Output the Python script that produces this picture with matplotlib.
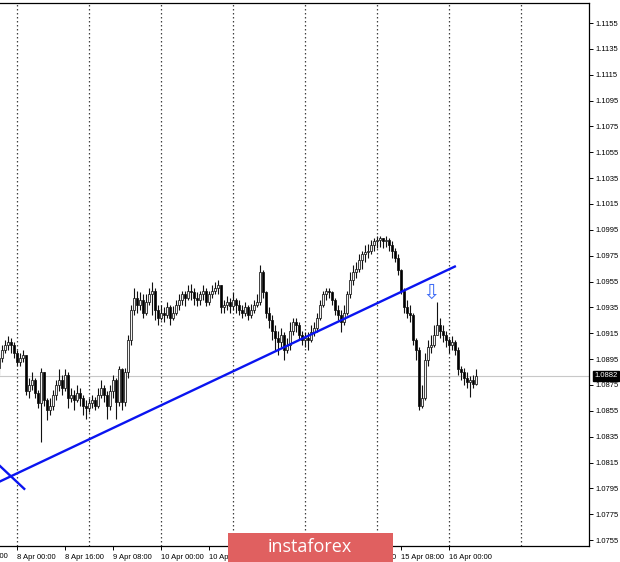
"""
EURUSD H1 - graphique façon MetaTrader (fond blanc, bougies noires/blanches).
"""
import numpy as np
import matplotlib.pyplot as plt
from matplotlib.patches import Rectangle

# === DONNÉES ===
FIRST_BAR = -6          # indice de la première bougie (0 = 8 Apr 00:00)
FIRST_OPEN = 1.0888

CLOSES = [
    1.0896, 1.0902, 1.0906, 1.0908, 1.0906, 1.0900,                      # -6..-1
    1.0893, 1.0896, 1.0898, 1.0870, 1.0875, 1.0879, 1.0869, 1.0861,      # 0..7
    1.0885, 1.0863, 1.0856, 1.0859, 1.0867, 1.0875, 1.0879, 1.0873,      # 8..15
    1.0883, 1.0865, 1.0867, 1.0863, 1.0869, 1.0865, 1.0859, 1.0857,      # 16..23
    1.0861, 1.0863, 1.0859, 1.0867, 1.0873, 1.0867, 1.0859, 1.0870,      # 24..31
    1.0879, 1.0862, 1.0887, 1.0862, 1.0885, 1.0910, 1.0933, 1.0942,      # 32..39
    1.0937, 1.0941, 1.0931, 1.0939, 1.0945, 1.0948, 1.0933, 1.0927,      # 40..47
    1.0931, 1.0929, 1.0935, 1.0927, 1.0931, 1.0937, 1.0941, 1.0945,      # 48..55
    1.0942, 1.0948, 1.0947, 1.0942, 1.0941, 1.0945, 1.0948, 1.0939,      # 56..63
    1.0945, 1.0948, 1.0950, 1.0952, 1.0935, 1.0937, 1.0939, 1.0936,      # 64..71
    1.0941, 1.0937, 1.0933, 1.0931, 1.0935, 1.0929, 1.0933, 1.0937,      # 72..79
    1.0939, 1.0962, 1.0947, 1.0931, 1.0925, 1.0917, 1.0911, 1.0908,      # 80..87
    1.0914, 1.0902, 1.0906, 1.0917, 1.0924, 1.0921, 1.0914, 1.0910,      # 88..95
    1.0911, 1.0910, 1.0916, 1.0919, 1.0927, 1.0937, 1.0945, 1.0948,      # 96..103
    1.0947, 1.0941, 1.0933, 1.0929, 1.0924, 1.0931, 1.0945, 1.0956,      # 104..111
    1.0962, 1.0965, 1.0972, 1.0976, 1.0978, 1.0979, 1.0983, 1.0986,      # 112..119
    1.0987, 1.0989, 1.0986, 1.0987, 1.0983, 1.0979, 1.0973, 1.0964,      # 120..127
    1.0948, 1.0935, 1.0931, 1.0929, 1.0910, 1.0902, 1.0859, 1.0865,      # 128..135
    1.0894, 1.0904, 1.0906, 1.0914, 1.0921, 1.0917, 1.0914, 1.0910,      # 136..143
    1.0906, 1.0908, 1.0902, 1.0887, 1.0885, 1.0880, 1.0877, 1.0879,      # 144..151
    1.0876, 1.0882,                                                      # 152..153
]

HIGHS = [
    1.0900, 1.0906, 1.0910, 1.0913, 1.0911, 1.0908,
    1.0902, 1.0900, 1.0902, 1.0898, 1.0880, 1.0885, 1.0880, 1.0871,
    1.0888, 1.0885, 1.0865, 1.0865, 1.0871, 1.0879, 1.0887, 1.0883,
    1.0887, 1.0885, 1.0873, 1.0871, 1.0875, 1.0873, 1.0867, 1.0863,
    1.0865, 1.0867, 1.0866, 1.0873, 1.0879, 1.0875, 1.0870, 1.0875,
    1.0883, 1.0880, 1.0890, 1.0888, 1.0888, 1.0914, 1.0937, 1.0950,
    1.0948, 1.0947, 1.0945, 1.0945, 1.0950, 1.0955, 1.0950, 1.0937,
    1.0937, 1.0935, 1.0939, 1.0937, 1.0936, 1.0941, 1.0945, 1.0948,
    1.0948, 1.0952, 1.0953, 1.0950, 1.0947, 1.0948, 1.0952, 1.0950,
    1.0948, 1.0952, 1.0955, 1.0956, 1.0952, 1.0941, 1.0944, 1.0942,
    1.0947, 1.0942, 1.0941, 1.0937, 1.0939, 1.0937, 1.0938, 1.0941,
    1.0945, 1.0968, 1.0964, 1.0948, 1.0935, 1.0929, 1.0921, 1.0917,
    1.0919, 1.0916, 1.0911, 1.0924, 1.0927, 1.0927, 1.0924, 1.0917,
    1.0916, 1.0916, 1.0921, 1.0924, 1.0931, 1.0941, 1.0948, 1.0950,
    1.0950, 1.0948, 1.0942, 1.0937, 1.0933, 1.0937, 1.0948, 1.0962,
    1.0968, 1.0970, 1.0976, 1.0979, 1.0983, 1.0984, 1.0987, 1.0989,
    1.0990, 1.0990, 1.0989, 1.0990, 1.0989, 1.0986, 1.0981, 1.0976,
    1.0965, 1.0950, 1.0941, 1.0937, 1.0931, 1.0911, 1.0904, 1.0875,
    1.0900, 1.0910, 1.0914, 1.0921, 1.0939, 1.0927, 1.0921, 1.0917,
    1.0911, 1.0913, 1.0910, 1.0904, 1.0890, 1.0888, 1.0885, 1.0882,
    1.0883, 1.0887,
]

LOWS = [
    1.0883, 1.0893, 1.0900, 1.0902, 1.0900, 1.0896,
    1.0890, 1.0890, 1.0893, 1.0867, 1.0865, 1.0871, 1.0865, 1.0857,
    1.0831, 1.0859, 1.0848, 1.0852, 1.0856, 1.0863, 1.0870, 1.0867,
    1.0870, 1.0857, 1.0862, 1.0856, 1.0862, 1.0859, 1.0852, 1.0849,
    1.0854, 1.0857, 1.0856, 1.0857, 1.0865, 1.0862, 1.0849, 1.0856,
    1.0865, 1.0849, 1.0859, 1.0856, 1.0859, 1.0880, 1.0906, 1.0929,
    1.0931, 1.0933, 1.0927, 1.0929, 1.0937, 1.0929, 1.0925, 1.0921,
    1.0925, 1.0924, 1.0927, 1.0921, 1.0925, 1.0929, 1.0933, 1.0937,
    1.0936, 1.0941, 1.0941, 1.0937, 1.0936, 1.0937, 1.0941, 1.0936,
    1.0937, 1.0942, 1.0945, 1.0945, 1.0931, 1.0931, 1.0933, 1.0931,
    1.0933, 1.0931, 1.0929, 1.0927, 1.0928, 1.0925, 1.0927, 1.0931,
    1.0935, 1.0937, 1.0942, 1.0927, 1.0919, 1.0910, 1.0902, 1.0898,
    1.0904, 1.0894, 1.0900, 1.0902, 1.0914, 1.0916, 1.0910, 1.0906,
    1.0904, 1.0902, 1.0908, 1.0913, 1.0916, 1.0925, 1.0935, 1.0941,
    1.0942, 1.0937, 1.0929, 1.0925, 1.0916, 1.0921, 1.0929, 1.0942,
    1.0952, 1.0958, 1.0962, 1.0965, 1.0970, 1.0973, 1.0976, 1.0979,
    1.0981, 1.0982, 1.0981, 1.0982, 1.0979, 1.0973, 1.0970, 1.0960,
    1.0945, 1.0931, 1.0927, 1.0924, 1.0906, 1.0894, 1.0856, 1.0857,
    1.0863, 1.0890, 1.0900, 1.0904, 1.0914, 1.0911, 1.0908, 1.0904,
    1.0900, 1.0902, 1.0898, 1.0883, 1.0879, 1.0875, 1.0873, 1.0866,
    1.0873, 1.0875,
]

# Libellés de l'axe du temps (une étiquette toutes les 16 bougies, dès la bougie -16)
TIME_LABELS = ["7 Apr 08:00", "8 Apr 00:00", "8 Apr 16:00", "9 Apr 08:00",
               "10 Apr 00:00", "10 Apr 16:00", "13 Apr 08:00", "14 Apr 00:00",
               "14 Apr 16:00", "15 Apr 08:00", "16 Apr 00:00"]

# Ligne de tendance principale et petite ligne en bas à gauche (bougie, prix)
TREND_BARS = [-6, 146.3]
TREND_PRICES = [1.0800, 1.0967]
SHORT_BARS = [-6, 2.7]
SHORT_PRICES = [1.0813, 1.0794]

# Flèche de signal
ARROW_BAR = 138
ARROW_PRICE = 1.0946

CURRENT_PRICE = 1.0882
# =============================

W, H = 620, 562


def plot_chart(save_path="out.png"):
    fig = plt.figure(figsize=(W / 100, H / 100), dpi=100)
    ax = fig.add_axes([0, 16 / H, 589 / W, 543 / H])

    bars = np.arange(FIRST_BAR, FIRST_BAR + len(CLOSES))
    closes = np.array(CLOSES)
    opens = np.concatenate([[FIRST_OPEN], closes[:-1]])
    bull = closes >= opens

    # grille verticale (un trait par jour)
    for d in np.arange(0, 169, 24):
        ax.axvline(d, color="#404040", lw=0.9, ls=(0, (1.2, 2)), zorder=1)

    ax.axhline(CURRENT_PRICE, color="#c8c8c8", lw=0.8, zorder=1)

    # bougies
    ax.vlines(bars, LOWS, HIGHS, color="#111111", lw=0.8, zorder=2)
    body = closes - opens
    ax.bar(bars, body, bottom=opens, width=0.7,
           color=np.where(bull, "#f2f2f2", "black"), edgecolor="#111111",
           linewidth=0.55, zorder=3)

    # lignes de tendance
    ax.plot(TREND_BARS, TREND_PRICES, color="#0a14f0", lw=1.7, zorder=4,
            solid_capstyle="butt")
    ax.plot(SHORT_BARS, SHORT_PRICES, color="#0a14f0", lw=1.7, zorder=4,
            solid_capstyle="butt")

    ax.text(ARROW_BAR, ARROW_PRICE, "\u21e9", color="#3f6cf5", fontsize=15,
            ha="center", va="center", family="DejaVu Sans", zorder=5)

    ax.set_xlim(-17 / 3, 572 / 3)
    ax.set_ylim(1.07504, 1.11705)

    # axe des prix à droite
    ax.yaxis.tick_right()
    yt = np.round(np.arange(1.0755, 1.1156, 0.002), 4)
    ax.set_yticks(yt)
    ax.set_yticklabels([f"{v:.4f}" for v in yt], family="Liberation Sans",
                       fontsize=5.5)
    ax.tick_params(axis="y", length=3, width=0.7, pad=1.5, colors="black")

    # axe du temps
    pos = np.arange(len(TIME_LABELS)) * 16 - 16
    ax.set_xticks(pos[1:])
    ax.set_xticklabels(TIME_LABELS[1:], ha="left", family="Liberation Sans",
                       fontsize=5.5)
    ax.tick_params(axis="x", length=3, width=0.7, pad=2.5)
    ax.text(pos[0], -0.013, TIME_LABELS[0], transform=ax.get_xaxis_transform(),
            ha="left", va="top", family="Liberation Sans", fontsize=5.5,
            clip_on=False)

    for s in ["top", "right", "bottom"]:
        ax.spines[s].set_linewidth(0.9)
    ax.spines["left"].set_visible(False)

    # étiquette du prix courant
    ax.annotate(f"{CURRENT_PRICE:.4f}", xy=(1.0, CURRENT_PRICE),
                xycoords=("axes fraction", "data"), xytext=(4, 0),
                textcoords="offset points", ha="left", va="center",
                family="Liberation Sans", fontsize=5.5, color="white",
                bbox=dict(boxstyle="square,pad=0.15", fc="black", ec="black"),
                zorder=10, annotation_clip=False)

    # filigrane
    fig.patches.append(Rectangle((228 / W, 0), 165 / W, 29 / H,
                                 transform=fig.transFigure, fc="#e06060",
                                 ec="none", zorder=20))
    fig.text(310 / W, 15 / H, "instaforex", color="white", fontsize=13,
             family="Open Sans", ha="center", va="center", zorder=21)

    fig.savefig(save_path, dpi=100)


if __name__ == "__main__":
    plot_chart()
